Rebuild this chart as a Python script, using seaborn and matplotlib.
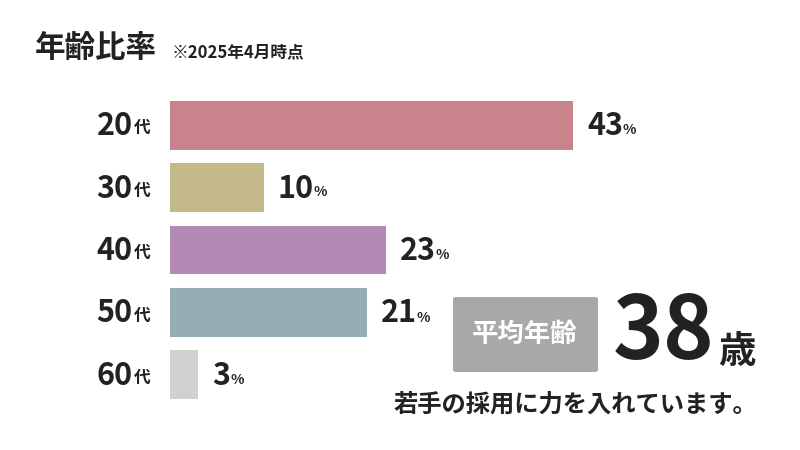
import matplotlib
matplotlib.use("Agg")
import matplotlib.pyplot as plt
import seaborn as sns
import pandas as pd
from matplotlib.patches import FancyBboxPatch

categories = ["20", "30", "40", "50", "60"]
values = [43, 10, 23, 21, 3]
colors = ["#C9838A", "#C3B98A", "#B38AB5", "#95AEB5", "#D0D0D0"]
average_age = "38"

FONT = "Noto Sans CJK JP"
plt.rcParams["font.family"] = FONT

fig = plt.figure(figsize=(8, 4.5), dpi=100)
W, H = 800, 450
ax = fig.add_axes([170 / W, 1 - 406 / H, 630 / W, 312 / H])
df = pd.DataFrame({"cat": categories, "val": values})
sns.barplot(data=df, x="val", y="cat", hue="cat", palette=colors, legend=False,
            width=0.78, ax=ax, saturation=1)
ax.set_xlim(0, 630 / 9.37)
ax.set_ylim(4.5, -0.5)
ax.axis("off")
for p in ax.patches:
    p.set_edgecolor("none")

fig.canvas.draw()
r = fig.canvas.get_renderer()

def px(x, y):
    return x / W, 1 - y / H

for i, (c, v) in enumerate(zip(categories, values)):
    yc = 125 + i * 62.5
    t2 = fig.text(*px(150, yc + 3), "代", ha="right", va="center", fontsize=12, weight="bold", color="#222")
    bb = t2.get_window_extent(r)
    fig.text(bb.x0 / W - 0.001, 1 - (yc + 1) / H, c, ha="right", va="center", fontsize=22, weight="bold", color="#222")
    xe = 170 + v * 9.37 + 14
    t = fig.text(*px(xe, yc + 1), str(v), ha="left", va="center", fontsize=22, weight="bold", color="#222")
    bb = t.get_window_extent(r)
    fig.text(bb.x1 / W, 1 - (yc + 5) / H, "%", ha="left", va="center", fontsize=10, weight="bold", color="#222")

fig.text(*px(35, 48), "年齢比率", ha="left", va="center", fontsize=22, weight="bold", color="#222")
fig.text(*px(172, 52), "※2025年4月時点", ha="left", va="center", fontsize=12, weight="bold", color="#222")

box = FancyBboxPatch(px(453, 372), 145 / W, 75 / H, boxstyle="round,pad=0,rounding_size=0.004",
                     transform=fig.transFigure, facecolor="#A8A8A8", edgecolor="none")
fig.add_artist(box)
fig.text(*px(525, 334), "平均年齢", ha="center", va="center", fontsize=19, weight="bold", color="white")
t = fig.text(*px(613, 334), average_age, ha="left", va="center", fontsize=62, weight="bold", color="#222")
bb = t.get_window_extent(r)
fig.text(bb.x1 / W + 0.004, 1 - 352 / H, "歳", ha="left", va="center", fontsize=27, weight="bold", color="#222")
fig.text(*px(575, 405), "若手の採用に力を入れています。", ha="center", va="center", fontsize=17.5, weight="bold", color="#222")

fig.savefig("out.png", dpi=100)
